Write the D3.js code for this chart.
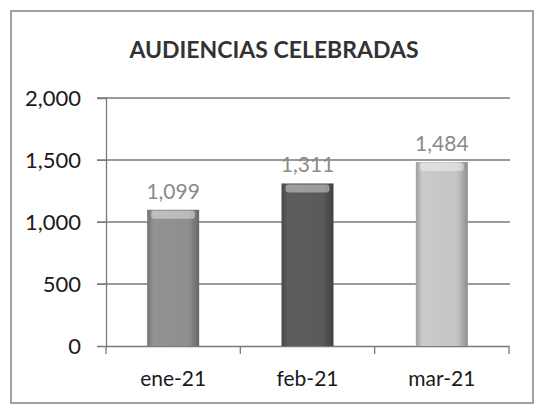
<!DOCTYPE html>
<html><head><meta charset="utf-8">
<script src="https://cdn.jsdelivr.net/npm/d3@7"></script>
<style>body{margin:0;background:#fff}svg{display:block}</style>
</head><body>
<script>
const categories = ["ene-21", "feb-21", "mar-21"];
const values = [1099, 1311, 1484];
const yTicks = [0, 500, 1000, 1500, 2000];
const barColors = ["#8e8e8e", "#5a5a5a", "#c4c4c4"];
const title = "AUDIENCIAS CELEBRADAS";

const W = 538, H = 407;
const svg = d3.select("body").append("svg").attr("width", W).attr("height", H);
const font = "Lato, 'Open Sans', sans-serif";

svg.append("rect").attr("x", 11).attr("y", 11).attr("width", 522).attr("height", 392)
  .attr("fill", "#fff").attr("stroke", "#a0a0a0").attr("stroke-width", 2);

const x = d3.scaleBand().domain(categories).range([106, 509]).paddingInner(0.613).paddingOuter(0.3065);
const y = d3.scaleLinear().domain([0, 2000]).range([346, 98]);

const defs = svg.append("defs");
barColors.forEach((c, i) => {
  const g = defs.append("linearGradient").attr("id", "g" + i).attr("x1", 0).attr("x2", 1).attr("y1", 0).attr("y2", 0);
  const col = d3.color(c);
  g.append("stop").attr("offset", "0%").attr("stop-color", col.darker(0.6));
  g.append("stop").attr("offset", "12%").attr("stop-color", col.brighter(0.1));
  g.append("stop").attr("offset", "80%").attr("stop-color", col);
  g.append("stop").attr("offset", "100%").attr("stop-color", col.darker(0.9));
});

// gridlines
svg.append("g").selectAll("line").data(yTicks.filter(d => d > 0)).join("line")
  .attr("x1", 97).attr("x2", 510).attr("y1", d => y(d)).attr("y2", d => y(d))
  .attr("stroke", "#7a7a7a").attr("stroke-width", 1.3);

// y axis
const yAxis = svg.append("g").attr("transform", "translate(106,0)")
  .call(d3.axisLeft(y).tickValues(yTicks).tickSize(9).tickPadding(16).tickFormat(d3.format(",")));
yAxis.select(".domain").attr("stroke", "#7a7a7a").attr("stroke-width", 1.3);
yAxis.selectAll(".tick line").attr("stroke", "#7a7a7a");
yAxis.selectAll("text").attr("font-family", font).attr("font-size", 22).attr("fill", "#1a1a1a");

// x axis
const xAxis = svg.append("g").attr("transform", "translate(0,346)")
  .call(d3.axisBottom(x).tickSize(0).tickPadding(25));
xAxis.select(".domain").attr("stroke", "#7a7a7a").attr("stroke-width", 1.3);
xAxis.selectAll("text").attr("font-family", font).attr("font-size", 21).attr("fill", "#1a1a1a");
const bounds = [106].concat(categories.map(c => x(c) + x.bandwidth() / 2 + x.step() / 2));
svg.append("g").selectAll("line").data(bounds).join("line")
  .attr("x1", d => d).attr("x2", d => d).attr("y1", 346).attr("y2", 354)
  .attr("stroke", "#7a7a7a").attr("stroke-width", 1.3);

// bars
const bars = svg.append("g").selectAll("g").data(values).join("g");
bars.append("rect")
  .attr("x", (d, i) => x(categories[i])).attr("width", x.bandwidth())
  .attr("y", d => y(d)).attr("height", d => y(0) - y(d))
  .attr("fill", (d, i) => `url(#g${i})`);
bars.append("rect")
  .attr("x", (d, i) => x(categories[i]) + 4).attr("width", x.bandwidth() - 8)
  .attr("y", d => y(d) + 1).attr("height", 8).attr("rx", 3)
  .attr("fill", "#fff").attr("opacity", 0.4);

// value labels
svg.append("g").selectAll("text").data(values).join("text")
  .attr("x", (d, i) => x(categories[i]) + x.bandwidth() / 2)
  .attr("y", d => y(d) - 11)
  .attr("text-anchor", "middle").attr("font-family", font).attr("font-size", 21)
  .attr("fill", "#8a8a8a").text(d => d3.format(",")(d));

// title
svg.append("text").attr("x", 274).attr("y", 58).attr("text-anchor", "middle")
  .attr("font-family", font).attr("font-weight", "bold").attr("font-size", 23)
  .attr("fill", "#333").text(title);
</script>
</body></html>
